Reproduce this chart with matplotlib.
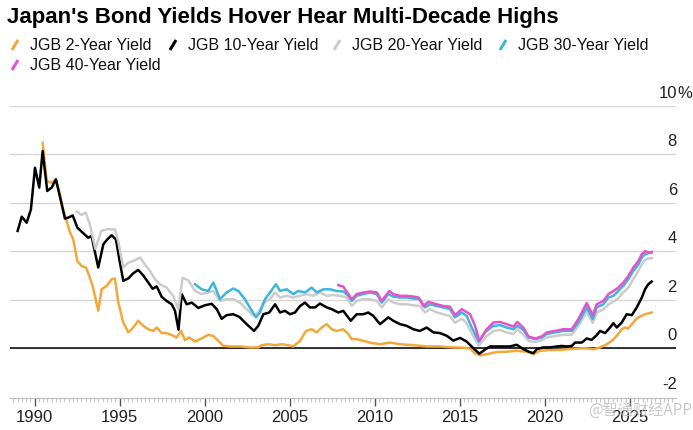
import matplotlib
matplotlib.use("Agg")
import matplotlib.pyplot as plt
from matplotlib.lines import Line2D
from matplotlib.ticker import MultipleLocator

# JGB 2-year
yrs_2y = [1990.47, 1990.71, 1991.0, 1991.25, 1991.49, 1991.68, 1991.88, 1992.08, 1992.27, 1992.51,
          1992.76, 1993.02, 1993.21, 1993.41, 1993.74, 1993.94, 1994.24, 1994.53, 1994.72, 1994.92,
          1995.21, 1995.51, 1995.8, 1996.09, 1996.39, 1996.68, 1996.98, 1997.18, 1997.47, 1997.76,
          1998.06, 1998.35, 1998.61, 1998.84, 1999.09, 1999.43, 1999.82, 2000.21, 2000.51, 2000.8,
          2001.09, 2001.49, 2002.08, 2002.66, 2003.15, 2003.35, 2003.74, 2004.14, 2004.53, 2004.92,
          2005.21, 2005.61, 2005.96, 2006.29, 2006.59, 2006.88, 2007.18, 2007.47, 2007.76, 2008.15,
          2008.45, 2008.65, 2008.94, 2009.33, 2009.82, 2010.31, 2010.9, 2011.49, 2012.27, 2013.06,
          2013.84, 2014.62, 2015.21, 2015.61, 2015.9, 2016.19, 2016.59, 2017.18, 2017.76, 2018.35,
          2018.94, 2019.33, 2019.72, 2020.31, 2020.9, 2021.49, 2022.08, 2022.47, 2022.86, 2023.25,
          2023.65, 2023.94, 2024.24, 2024.53, 2024.72, 2024.92, 2025.12, 2025.41, 2025.61, 2025.9,
          2026.29]
jgb_2y = [8.48, 6.9, 6.83, 6.97, 6.35, 5.73, 5.25, 4.77, 4.49, 3.6,
          3.39, 3.33, 2.98, 2.57, 1.54, 2.43, 2.57, 2.85, 2.87, 1.88,
          1.06, 0.65, 0.85, 1.13, 0.92, 0.78, 0.71, 0.85, 0.62, 0.62,
          0.54, 0.44, 0.71, 0.33, 0.44, 0.27, 0.4, 0.55, 0.5, 0.3,
          0.1, 0.07, 0.07, 0.03, 0.03, 0.12, 0.16, 0.12, 0.16, 0.12,
          0.07, 0.3, 0.71, 0.78, 0.65, 0.85, 0.99, 0.78, 0.71, 0.78,
          0.58, 0.37, 0.37, 0.3, 0.21, 0.16, 0.23, 0.16, 0.12, 0.07,
          0.07, 0.03, 0.02, -0.02, -0.21, -0.3, -0.25, -0.16, -0.15, -0.11,
          -0.15, -0.25, -0.11, -0.08, -0.07, -0.04, -0.01, -0.01, -0.05, 0.03,
          0.16, 0.3, 0.51, 0.78, 0.85, 0.81, 0.99, 1.22, 1.31, 1.4,
          1.47]

# JGB 10-year
yrs_10y = [1989.0, 1989.24, 1989.53, 1989.78, 1990.02, 1990.27, 1990.47, 1990.74, 1991.0, 1991.25,
           1991.59, 1991.78, 1991.98, 1992.24, 1992.51, 1992.82, 1993.15, 1993.35, 1993.49, 1993.74,
           1994.04, 1994.27, 1994.53, 1994.78, 1994.98, 1995.21, 1995.51, 1995.8, 1996.09, 1996.39,
           1996.68, 1996.94, 1997.18, 1997.47, 1997.76, 1998.06, 1998.25, 1998.46, 1998.65, 1998.94,
           1999.24, 1999.62, 2000.02, 2000.41, 2000.71, 2001.0, 2001.29, 2001.68, 2002.04, 2002.47,
           2002.9, 2003.15, 2003.45, 2003.8, 2004.14, 2004.43, 2004.72, 2005.02, 2005.31, 2005.61,
           2005.9, 2006.19, 2006.49, 2006.78, 2007.18, 2007.47, 2007.86, 2008.15, 2008.59, 2008.94,
           2009.33, 2009.62, 2009.92, 2010.31, 2010.8, 2011.09, 2011.49, 2011.88, 2012.27, 2012.66,
           2013.06, 2013.45, 2013.84, 2014.24, 2014.62, 2015.02, 2015.41, 2015.8, 2016.15, 2016.49,
           2016.78, 2017.18, 2017.56, 2017.96, 2018.35, 2018.74, 2019.04, 2019.33, 2019.53, 2019.92,
           2020.31, 2020.71, 2021.0, 2021.29, 2021.59, 2021.78, 2022.18, 2022.47, 2022.76, 2023.06,
           2023.25, 2023.55, 2023.84, 2024.04, 2024.24, 2024.53, 2024.82, 2025.12, 2025.41, 2025.71,
           2025.9, 2026.09, 2026.29]
jgb_10y = [4.84, 5.43, 5.18, 5.73, 7.45, 6.63, 8.14, 6.49, 6.63, 6.97,
           5.94, 5.35, 5.39, 5.48, 4.98, 4.77, 4.56, 4.63, 4.15, 3.33,
           4.29, 4.49, 4.66, 4.49, 3.67, 2.78, 2.88, 3.09, 3.23, 3.0,
           2.71, 2.45, 2.55, 2.12, 1.95, 1.81, 1.55, 0.76, 2.23, 1.81,
           1.88, 1.66, 1.77, 1.83, 1.61, 1.21, 1.36, 1.4, 1.29, 0.99,
           0.71, 0.92, 1.4, 1.47, 1.81, 1.47, 1.54, 1.4, 1.47, 1.74,
           1.88, 1.68, 1.68, 1.84, 1.68, 1.61, 1.47, 1.54, 1.13, 1.4,
           1.4, 1.47, 1.33, 0.99, 1.27, 1.13, 0.99, 0.92, 0.78, 0.71,
           0.85, 0.65, 0.62, 0.51, 0.31, 0.42, 0.27, 0.0, -0.23, -0.06,
           0.07, 0.07, 0.07, 0.07, 0.14, -0.04, -0.14, -0.21, -0.04, 0.03,
           0.03, 0.07, 0.09, 0.07, 0.09, 0.23, 0.23, 0.4, 0.34, 0.54,
           0.71, 0.62, 0.85, 1.03, 0.85, 1.06, 1.4, 1.36, 1.68, 2.09,
           2.43, 2.64, 2.75]

# JGB 20-year
yrs_20y = [1992.47, 1992.76, 1993.0, 1993.25, 1993.57, 1993.92, 1994.3, 1994.72, 1994.92, 1995.21,
           1995.51, 1995.8, 1996.2, 1996.48, 1996.78, 1997.07, 1997.36, 1997.76, 1998.15, 1998.45,
           1998.7, 1999.04, 1999.43, 1999.82, 2000.21, 2000.51, 2000.9, 2001.29, 2001.68, 2002.08,
           2002.47, 2002.86, 2003.15, 2003.45, 2003.84, 2004.14, 2004.43, 2004.82, 2005.21, 2005.61,
           2006.0, 2006.39, 2006.78, 2007.18, 2007.56, 2007.96, 2008.35, 2008.65, 2008.94, 2009.33,
           2009.72, 2010.12, 2010.41, 2010.8, 2011.09, 2011.49, 2011.88, 2012.27, 2012.66, 2012.96,
           2013.25, 2013.65, 2014.04, 2014.43, 2014.72, 2015.12, 2015.41, 2015.71, 2016.12, 2016.55,
           2016.98, 2017.37, 2017.76, 2018.15, 2018.39, 2018.74, 2019.04, 2019.43, 2019.82, 2020.12,
           2020.61, 2021.09, 2021.59, 2021.98, 2022.47, 2022.82, 2023.06, 2023.45, 2023.74, 2024.04,
           2024.33, 2024.62, 2024.92, 2025.21, 2025.51, 2025.71, 2025.9, 2026.09, 2026.29]
jgb_20y = [5.64, 5.5, 5.6, 5.1, 4.1, 4.84, 4.91, 4.9, 4.4, 3.33,
           3.53, 3.6, 3.74, 3.46, 3.19, 2.85, 2.64, 2.5, 2.16, 1.61,
           2.9, 2.8, 2.36, 2.23, 2.3, 2.36, 1.95, 2.02, 2.02, 1.88,
           1.61, 1.33, 1.47, 1.88, 2.02, 2.3, 2.09, 2.16, 2.09, 2.16,
           2.23, 2.16, 2.3, 2.16, 2.19, 2.16, 2.09, 1.74, 1.95, 2.02,
           2.02, 1.95, 1.68, 2.02, 1.88, 1.81, 1.81, 1.77, 1.74, 1.47,
           1.61, 1.47, 1.4, 1.33, 1.04, 1.22, 1.03, 0.6, 0.1, 0.47,
           0.71, 0.75, 0.65, 0.58, 0.78, 0.55, 0.3, 0.25, 0.33, 0.44,
           0.5, 0.55, 0.55, 0.92, 1.5, 1.04, 1.47, 1.6, 1.8, 1.92,
           2.06, 2.3, 2.5, 2.85, 3.2, 3.46, 3.64, 3.7, 3.72]

# JGB 30-year
yrs_30y = [1999.43, 1999.82, 2000.21, 2000.51, 2000.9, 2001.29, 2001.68, 2001.98, 2002.37, 2002.71,
           2003.02, 2003.25, 2003.55, 2003.84, 2004.19, 2004.43, 2004.82, 2005.21, 2005.51, 2005.9,
           2006.29, 2006.59, 2006.98, 2007.37, 2007.76, 2008.15, 2008.45, 2008.65, 2008.94, 2009.33,
           2009.72, 2010.12, 2010.41, 2010.8, 2011.09, 2011.49, 2011.88, 2012.27, 2012.66, 2012.96,
           2013.25, 2013.65, 2014.04, 2014.43, 2014.72, 2015.12, 2015.41, 2015.71, 2016.12, 2016.52,
           2016.98, 2017.37, 2017.76, 2018.15, 2018.39, 2018.74, 2019.04, 2019.43, 2019.82, 2020.12,
           2020.61, 2021.09, 2021.59, 2021.98, 2022.47, 2022.82, 2023.06, 2023.45, 2023.74, 2024.04,
           2024.33, 2024.62, 2024.92, 2025.21, 2025.51, 2025.71, 2025.9, 2026.09, 2026.29]
jgb_30y = [2.64, 2.43, 2.36, 2.71, 2.02, 2.3, 2.46, 2.36, 2.02, 1.61,
           1.27, 1.47, 2.02, 2.3, 2.64, 2.36, 2.43, 2.23, 2.36, 2.3,
           2.5, 2.3, 2.43, 2.43, 2.36, 2.34, 2.16, 1.95, 2.16, 2.23,
           2.3, 2.23, 1.88, 2.23, 2.13, 2.09, 2.09, 2.05, 2.02, 1.68,
           1.81, 1.74, 1.68, 1.61, 1.27, 1.47, 1.33, 0.85, 0.26, 0.68,
           0.92, 0.95, 0.85, 0.78, 0.92, 0.75, 0.44, 0.37, 0.44, 0.58,
           0.65, 0.71, 0.71, 1.06, 1.68, 1.2, 1.68, 1.81, 2.09, 2.16,
           2.36, 2.57, 2.85, 3.19, 3.46, 3.74, 3.88, 3.92, 3.95]

# JGB 40-year
yrs_40y = [2007.86, 2008.15, 2008.45, 2008.65, 2008.94, 2009.33, 2009.72, 2010.12, 2010.41, 2010.86,
           2011.09, 2011.49, 2011.88, 2012.27, 2012.57, 2012.86, 2013.15, 2013.65, 2014.04, 2014.43,
           2014.72, 2015.12, 2015.61, 2015.9, 2016.15, 2016.59, 2016.98, 2017.37, 2017.76, 2018.15,
           2018.39, 2018.74, 2019.04, 2019.43, 2019.82, 2020.12, 2020.61, 2021.09, 2021.59, 2021.98,
           2022.47, 2022.82, 2023.06, 2023.45, 2023.74, 2024.04, 2024.33, 2024.62, 2024.92, 2025.21,
           2025.51, 2025.71, 2025.9, 2026.09, 2026.29]
jgb_40y = [2.6, 2.54, 2.23, 2.02, 2.23, 2.3, 2.34, 2.3, 1.95, 2.36,
           2.23, 2.16, 2.16, 2.13, 2.09, 1.74, 1.91, 1.81, 1.74, 1.71,
           1.36, 1.61, 1.4, 0.92, 0.3, 0.78, 1.06, 1.08, 0.99, 0.89,
           1.08, 0.85, 0.48, 0.4, 0.48, 0.65, 0.71, 0.78, 0.78, 1.2,
           1.86, 1.36, 1.81, 1.95, 2.23, 2.36, 2.5, 2.71, 2.98, 3.33,
           3.6, 3.88, 4.01, 3.95, 3.97]

labels = ["JGB 2-Year Yield", "JGB 10-Year Yield", "JGB 20-Year Yield",
          "JGB 30-Year Yield", "JGB 40-Year Yield"]
colors = ["#f2a83b", "#000000", "#cccccc", "#3bb6df", "#e553c9"]
y_ticks = [-2, 0, 2, 4, 6, 8, 10]
x_ticks = [1990, 1995, 2000, 2005, 2010, 2015, 2020, 2025]

W, H = 693, 431
plt.rcParams["font.family"] = ["Liberation Sans Narrow", "Liberation Sans", "DejaVu Sans"]

fig = plt.figure(figsize=(W / 100, H / 100), dpi=100)


def fx(x):
    return x / W


def fy(y):
    return 1 - y / H


ax = fig.add_axes([fx(10), fy(399), fx(676) - fx(10), fy(107) - fy(399)])
ax.set_xlim(1988.55, 2027.72)
ax.set_ylim(-2.06, 10)

for v in y_ticks:
    if v > -2:
        ax.axhline(v, color="#d6d6d6", lw=1, zorder=0)
ax.axhline(0, color="black", lw=1.1, zorder=1)

series = [(yrs_2y, jgb_2y), (yrs_10y, jgb_10y), (yrs_20y, jgb_20y),
          (yrs_30y, jgb_30y), (yrs_40y, jgb_40y)]
for (xs, ys), c in zip(series, colors):
    ax.plot(xs, ys, color=c, lw=1.8, solid_joinstyle="round", zorder=3)

for s in ["top", "left", "right"]:
    ax.spines[s].set_visible(False)
ax.spines["bottom"].set_color("#bdbdbd")
ax.set_yticks([])
ax.set_xticks(x_ticks)
ax.set_xticklabels([str(t) for t in x_ticks])
ax.xaxis.set_minor_locator(MultipleLocator(0.25))
ax.tick_params(axis="x", which="major", length=6, width=1, color="#555555",
               labelsize=12, labelcolor="#222222", pad=2)
ax.tick_params(axis="x", which="minor", length=3, width=0.8, color="#c8c8c8")

# right-side value labels
for v in y_ticks:
    ypix = 349 - v * 24.25 - 13
    fig.text(fx(677), fy(ypix), str(v), ha="right", va="center", fontsize=12, color="#222222")
fig.text(fx(677), fy(349 - 10 * 24.25 - 13), "%", ha="left", va="center", fontsize=12, color="#222222")

# title
fig.text(fx(7), fy(18), "Japan's Bond Yields Hover Hear Multi-Decade Highs",
         ha="left", va="center", fontsize=16, fontweight="bold", color="black")

# legend
legend_pos = [(12, 46), (170, 46), (334, 46), (500, 46), (12, 66)]
for (lx, ly), lab, c in zip(legend_pos, labels, colors):
    fig.add_artist(Line2D([fx(lx), fx(lx + 6)], [fy(ly + 5), fy(ly - 5)], color=c, lw=2.2,
                          solid_capstyle="butt"))
    fig.text(fx(lx + 18), fy(ly), lab, ha="left", va="center", fontsize=11.5, color="#111111")

# watermark
fig.text(fx(640), fy(410), "@智通财经APP", ha="center", va="center", fontsize=11,
         color="#bbbbbb", alpha=0.8, family=["Noto Sans CJK SC", "DejaVu Sans"])

fig.savefig("out.png", dpi=100)
